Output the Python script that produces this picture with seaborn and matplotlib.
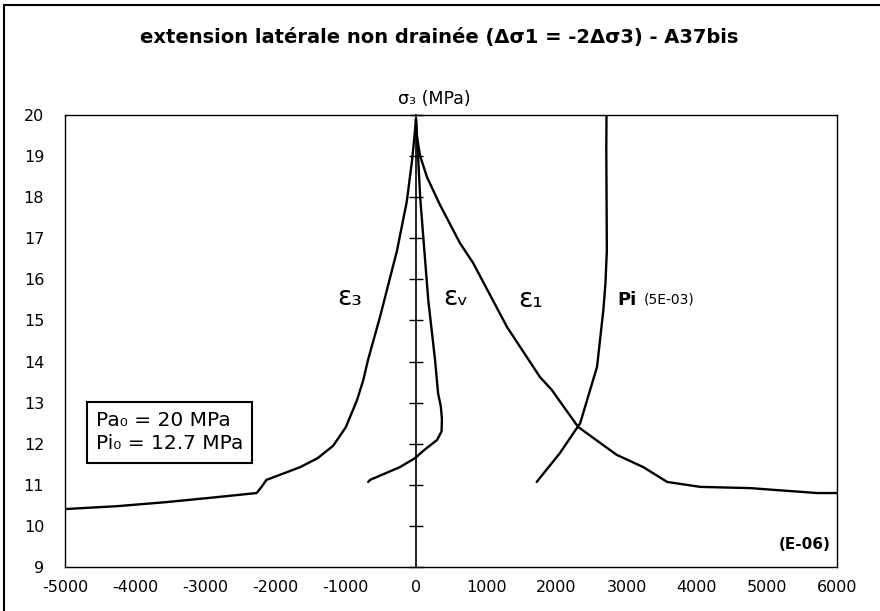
import numpy as np
import pandas as pd
import seaborn as sns
import matplotlib.pyplot as plt

# courbes : deformation (E-06) / sigma3 (MPa)
eps3_x = [0, -20, -55, -130, -270, -510, -683, -750, -840, -1000, -1180, -1400, -1650,
          -2130, -2200, -2270, -2840, -3550, -4260, -5000]
eps3_y = [19.9, 19.5, 18.9, 17.9, 16.7, 15.1, 14.04, 13.55, 13.06, 12.4, 11.95, 11.65, 11.43,
          11.12, 10.95, 10.80, 10.70, 10.58, 10.48, 10.41]

epsv_x = [0, 30, 60, 175, 272, 315, 355, 370, 365, 300, 120, -13, -230, -654, -680]
epsv_y = [19.9, 19.0, 18.0, 15.5, 14.04, 13.23, 12.9, 12.6, 12.3, 12.09, 11.85, 11.65, 11.43, 11.12, 11.07]

eps1_x = [0, 15, 60, 157, 343, 628, 814, 1298, 1768, 1935, 2310, 2600, 2860, 3240, 3580,
          4050, 4760, 5715, 6000]
eps1_y = [19.9, 19.46, 19.0, 18.49, 17.81, 16.88, 16.40, 14.84, 13.62, 13.31, 12.41, 12.05, 11.73,
          11.43, 11.07, 10.95, 10.92, 10.80, 10.80]

pi_x = [2715, 2712, 2720, 2700, 2670, 2580, 2480, 2340, 2050, 1720]
pi_y = [20.0, 19.15, 16.7, 15.9, 15.25, 13.87, 13.3, 12.5, 11.77, 11.07]

x_ticks = list(range(-5000, 6001, 1000))
y_ticks = list(range(9, 21))

sns.set_style("white")
plt.rcParams['font.family'] = ['DejaVu Sans']
plt.rcParams['axes.unicode_minus'] = False
plt.rcParams['text.color'] = 'black'
plt.rcParams['xtick.color'] = 'black'
plt.rcParams['ytick.color'] = 'black'
plt.rcParams['axes.labelcolor'] = 'black'

fig = plt.figure(figsize=(8.8, 6.11), dpi=100)
ax = fig.add_axes([0.0739, 0.072, 0.8773, 0.7398])

for xs, ys in [(eps3_x, eps3_y), (epsv_x, epsv_y), (eps1_x, eps1_y), (pi_x, pi_y)]:
    sns.lineplot(x=xs, y=ys, sort=False, estimator=None, color='black', lw=1.7, ax=ax)

ax.set_xlim(-5000, 6000)
ax.set_ylim(9, 20)
ax.set_xticks(x_ticks)
ax.set_yticks(y_ticks)
ax.tick_params(axis='x', direction='inout', length=10, width=1, labelsize=11.5, pad=4)
ax.tick_params(axis='y', length=0, labelsize=11.5, pad=15)
for s in ax.spines.values():
    s.set_color('black')
    s.set_linewidth(1)

# axe vertical au zero avec graduations
ax2 = ax.twinx()
ax2.set_ylim(9, 20)
ax2.set_yticks(y_ticks)
ax2.spines['right'].set_position(('data', 0))
ax2.spines['right'].set_color('black')
ax2.spines['right'].set_linewidth(1.2)
for side in ['left', 'top', 'bottom']:
    ax2.spines[side].set_visible(False)
ax2.tick_params(axis='y', direction='inout', length=10, width=1, labelright=False)

fig.text(0.499, 0.938, "extension latérale non drainée (Δσ1 = -2Δσ3) - A37bis",
         ha='center', va='center', fontsize=14, fontweight='bold')
ax.annotate("σ₃ (MPa)", xy=(258, 1.015), xycoords=('data', 'axes fraction'),
            ha='center', va='bottom', fontsize=12.5)

ax.text(-940, 15.55, "ε₃", fontsize=19, ha='center', va='center')
ax.text(570, 15.55, "εᵥ", fontsize=19, ha='center', va='center')
ax.text(1630, 15.5, "ε₁", fontsize=19, ha='center', va='center')
ax.text(2870, 15.5, "Pi", fontsize=13, fontweight='bold', ha='left', va='center')
ax.text(3250, 15.5, "(5E-03)", fontsize=10, ha='left', va='center')
ax.text(5540, 9.55, "(E-06)", fontsize=11, fontweight='bold', ha='center', va='center')

ax.text(-4560, 12.28, "Pa₀ = 20 MPa\nPi₀ = 12.7 MPa", fontsize=14.5, ha='left', va='center',
        linespacing=1.3,
        bbox=dict(boxstyle='square,pad=0.45', fc='white', ec='black', lw=1.5))

fig.add_artist(plt.Rectangle((0.004, -0.01), 1.0, 1.005 - 0.004, transform=fig.transFigure,
                             fill=False, ec='black', lw=1.5))

plt.savefig("out.png", dpi=100)
